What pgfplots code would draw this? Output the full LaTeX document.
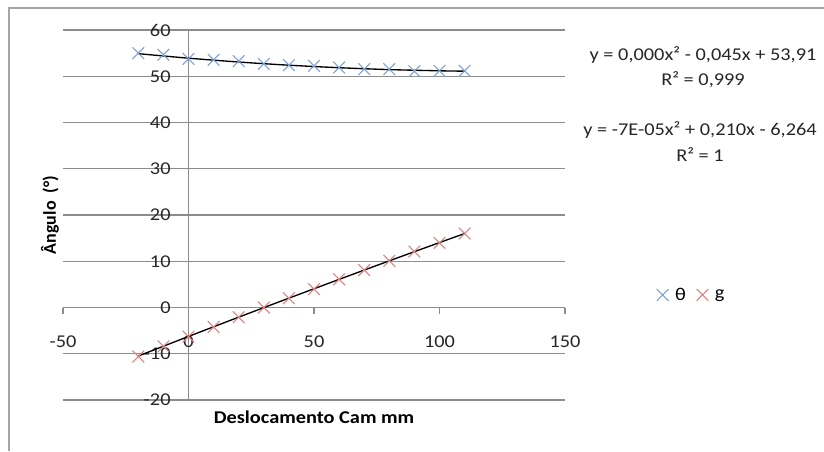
\documentclass[border=0pt]{standalone}
\usepackage{fontspec}
\setmainfont{Carlito}
\usepackage{graphicx}
\usepackage{pgfplots}
\pgfplotsset{compat=1.18}
\definecolor{thetablue}{RGB}{125,160,210}
\definecolor{gred}{RGB}{222,128,128}
\definecolor{gridgray}{RGB}{140,140,140}
\definecolor{framegray}{RGB}{165,165,165}
\newcommand{\hs}[1]{\scalebox{1.13}[1]{#1}}
\newcommand{\xlfont}{\fontsize{13.5}{16}\selectfont}

\begin{document}
\begin{tikzpicture}
% picture is 824 x 451 px, 1 px = 0.75 pt
\path[use as bounding box] (0,0) rectangle (618pt,338.25pt);
\draw[framegray, line width=1pt] (6.75pt,0pt) -- (6.75pt,332.25pt) -- (618pt,332.25pt);

\begin{axis}[
    at={(47.25pt,38.25pt)}, anchor=south west,
    width=376.5pt, height=277.5pt, scale only axis,
    xmin=-50, xmax=150, ymin=-20, ymax=60,
    axis lines=middle,
    axis line style={gridgray, line width=1pt, -},
    hide obscured x ticks=false, hide obscured y ticks=false,
    xtick={-50,0,50,100,150}, ytick={-20,-10,...,60},
    ymajorgrids, major grid style={gridgray, line width=1pt},
    xtick align=outside, major tick length=4.5pt,
    xtick style={gridgray, line width=1pt},
    ytick style={draw=none},
    tick label style={font=\xlfont, text=black!85},
    xticklabel={\hs{\pgfmathprintnumber[assume math mode=true]{\tick}}},
    yticklabel={\hs{\pgfmathprintnumber[assume math mode=true]{\tick}}},
    xticklabel style={anchor=center, inner sep=0pt, yshift=-21.5pt},
    yticklabel style={anchor=east, inner sep=0pt, xshift=-11pt},
    every axis x label/.style={at={(axis description cs:0.5,-0.046)}, anchor=center},
    every axis y label/.style={at={(axis description cs:-0.026,0.5)}, anchor=center, rotate=90},
    xlabel={\xlfont\bfseries\hs{Deslocamento Cam mm}},
    ylabel={\xlfont\bfseries Ângulo\ \ (°)},
    legend style={at={(1.253,0.284)}, anchor=center, draw=none, fill=none,
        font=\xlfont, legend columns=2,
        /tikz/every odd column/.append style={column sep=3pt},
        /tikz/every even column/.append style={column sep=6pt}},
    clip=false]

% trendlines (polynomial, order 2)
\addplot[black, line width=1pt, smooth, forget plot] coordinates {
    (-20,54.88)(0,53.91)(20,53.08)(40,52.39)(60,51.85)(80,51.44)(100,51.18)(110,51.10)};
\addplot[black, line width=1pt, smooth, forget plot] coordinates {
    (-20,-10.49)(0,-6.26)(20,-2.09)(40,2.02)(60,6.08)(80,10.09)(100,14.04)(110,15.99)};

\addplot[only marks, mark=x, mark size=6.2pt, thetablue, line width=0.8pt] coordinates {
    (-20,54.99)(-10,54.64)(0,53.77)(10,53.55)(20,53.27)(30,52.69)(40,52.41)
    (50,52.26)(60,51.89)(70,51.55)(80,51.55)(90,51.10)(100,51.18)(110,51.18)};
\addlegendentry{\hs{θ}}
\addplot[only marks, mark=x, mark size=6.2pt, gred, line width=0.8pt] coordinates {
    (-20,-10.6)(-10,-8.4)(0,-6.3)(10,-4.2)(20,-2.1)(30,0.0)(40,2.0)
    (50,4.0)(60,6.1)(70,8.1)(80,10.1)(90,12.1)(100,14.0)(110,16.0)};
\addlegendentry{\hs{g}}
\end{axis}

\begin{scope}[x=0.75pt, y=-0.75pt, shift={(0pt,338.25pt)}, every node/.style={font=\xlfont, text=black!85}]
\node at (703,55) {\hs{y = 0,000x² - 0,045x + 53,91}};
\node at (703,80) {\hs{R² = 0,999}};
\node at (700,130) {\hs{y = -7E-05x² + 0,210x - 6,264}};
\node at (700,155) {\hs{R² = 1}};
\end{scope}
\end{tikzpicture}
\end{document}
